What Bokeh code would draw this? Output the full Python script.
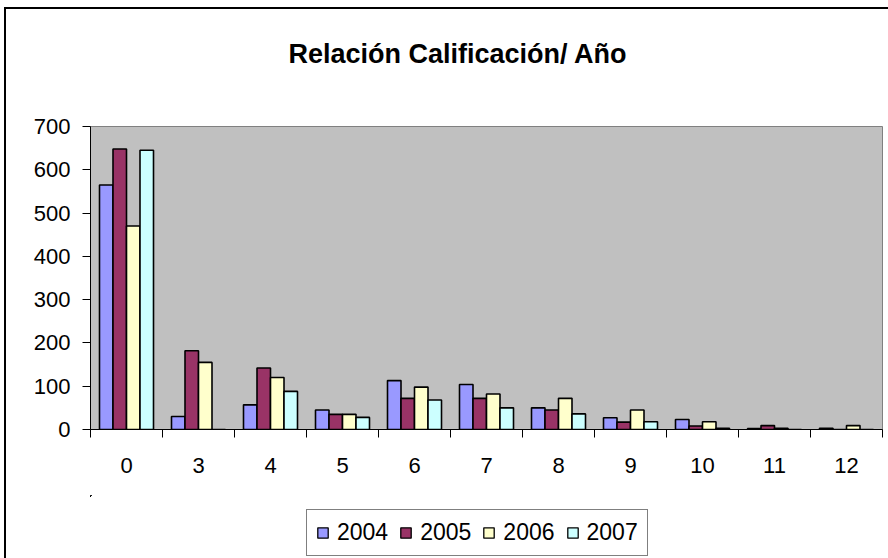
import numpy as np
from bokeh.plotting import figure
from bokeh.layouts import column
from bokeh.models import (ColumnDataSource, FixedTicker, Legend, LegendItem,
                          LinearAxis, Range1d, Title)
from bokeh.embed import file_html
from bokeh.resources import INLINE

# ---- data ----
categories = ["0", "3", "4", "5", "6", "7", "8", "9", "10", "11", "12"]
years = ["2004", "2005", "2006", "2007"]
y2004 = [565, 30, 57, 45, 113, 104, 50, 27, 23, 2, 3]
y2005 = [648, 182, 142, 35, 72, 72, 45, 17, 8, 9, 0]
y2006 = [470, 155, 120, 35, 98, 82, 72, 45, 18, 3, 9]
y2007 = [645, 0, 88, 28, 68, 50, 36, 18, 3, 0, 0]
y_ticks = [0, 100, 200, 300, 400, 500, 600, 700]

series = [y2004, y2005, y2006, y2007]
colors = ["#9999FF", "#993366", "#FFFFCC", "#CCFFFF"]
FONT = "Liberation Sans"

n = len(categories)
centers = np.arange(n) + 0.5
bounds = list(np.arange(n + 1).astype(float))
bar_w = 0.1875
offsets = [-1.5 * bar_w, -0.5 * bar_w, 0.5 * bar_w, 1.5 * bar_w]

p = figure(frame_width=792, frame_height=303, output_backend="svg", toolbar_location=None,
           x_range=Range1d(0, n), y_range=Range1d(0, 700),
           min_border_left=84, min_border_right=6, min_border_top=117,
           min_border_bottom=66, x_axis_type=None, y_axis_type=None)

p.background_fill_color = "#C0C0C0"
p.border_fill_color = "white"
p.outline_line_color = "#808080"
p.outline_line_width = 1

sources = []
for vals, col, off in zip(series, colors, offsets):
    src = ColumnDataSource(dict(x=centers + off, top=vals))
    sources.append(src)
    p.vbar(x="x", top="top", width=bar_w, bottom=0, source=src,
           fill_color=col, line_color="black", line_width=1.6)

# y axis
yaxis = LinearAxis(ticker=FixedTicker(ticks=y_ticks, minor_ticks=[]))
yaxis.axis_line_color = "black"
yaxis.major_tick_out = 8
yaxis.major_tick_in = 0
yaxis.major_tick_line_color = "black"
yaxis.minor_tick_line_color = None
yaxis.major_label_standoff = 12
yaxis.major_label_text_font = FONT
yaxis.major_label_text_font_size = "22px"
yaxis.major_label_text_color = "black"
p.add_layout(yaxis, "left")

# x axis: labels at category centers, ticks at category boundaries
xaxis = LinearAxis(ticker=FixedTicker(ticks=list(centers), minor_ticks=bounds))
xaxis.major_label_overrides = {float(c): lab for c, lab in zip(centers, categories)}
xaxis.axis_line_color = "black"
xaxis.major_tick_line_color = None
xaxis.major_tick_out = 8
xaxis.major_tick_in = 0
xaxis.minor_tick_line_color = "black"
xaxis.minor_tick_out = 8
xaxis.minor_tick_in = 0
xaxis.major_label_standoff = 20
xaxis.major_label_text_font = FONT
xaxis.major_label_text_font_size = "22px"
xaxis.major_label_text_color = "black"
p.add_layout(xaxis, "below")

p.ygrid.ticker = FixedTicker(ticks=y_ticks[1:-1])
p.ygrid.grid_line_color = "black"
p.ygrid.grid_line_width = 1
p.xgrid.visible = False

# spacer between the title and the plot area
p.add_layout(Title(text=" ", text_font_size="1px", standoff=26), "above")

p.title.text = "Relación Calificación/ Año"
p.title.text_font = FONT
p.title.text_font_style = "bold"
p.title.text_font_size = "27px"
p.title.text_color = "black"
p.title.align = "left"
p.title.offset = 198
p.title.vertical_align = "middle"
p.title.standoff = 56

# legend strip below the chart (same series as legend proxies; ranges keep them out of view)
p2 = figure(width=882, height=63, output_backend="svg", toolbar_location=None,
            min_border=0, x_axis_type=None, y_axis_type=None,
            x_range=Range1d(2 * n, 3 * n), y_range=Range1d(-2, -1))
p2.outline_line_color = None
p2.background_fill_color = "white"
p2.border_fill_color = "white"
p2.xgrid.visible = False
p2.ygrid.visible = False
legend_renderers = []
for src, col in zip(sources, colors):
    r = p2.vbar(x="x", top="top", width=0, bottom=0, source=src,
                fill_color=col, line_color="black", line_width=1.3)
    legend_renderers.append(r)

legend = Legend(items=[LegendItem(label=yr, renderers=[r]) for yr, r in zip(years, legend_renderers)],
                orientation="horizontal", location=(216, 2))
legend.label_text_font = FONT
legend.label_text_font_size = "23px"
legend.label_text_color = "black"
legend.glyph_width = 13
legend.glyph_height = 13
legend.label_standoff = 8
legend.spacing = 11
legend.padding = 9
legend.margin = 0
legend.border_line_color = "black"
legend.border_line_width = 1
legend.background_fill_color = "white"
legend.background_fill_alpha = 1
p2.add_layout(legend, "center")

layout = column(p, p2, spacing=0)
layout.styles = {"border-left": "2px solid black", "border-top": "2px solid black",
                 "margin-left": "4px", "margin-top": "7px"}

open("out.html", "w").write(file_html(layout, INLINE))
